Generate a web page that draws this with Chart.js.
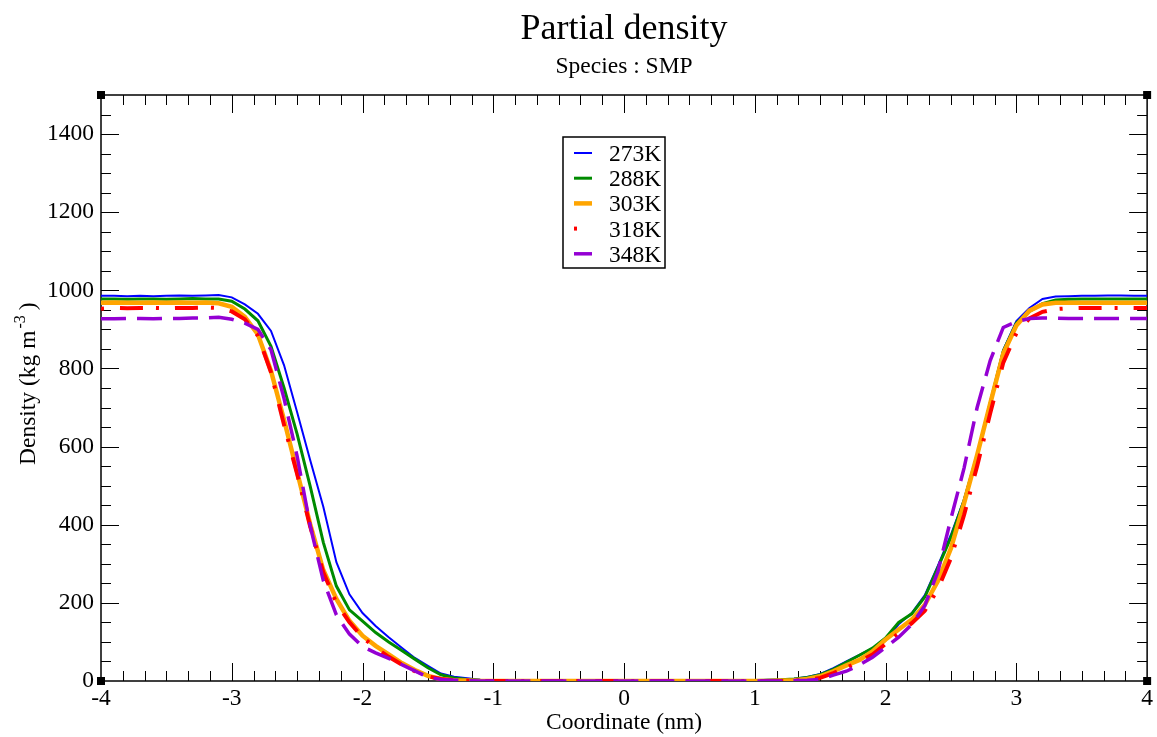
<!DOCTYPE html>
<html>
<head>
<meta charset="utf-8">
<script src="https://cdn.jsdelivr.net/npm/chart.js@4.4.1/dist/chart.umd.min.js"></script>
<style>
  html, body { margin: 0; padding: 0; background: #fff; }
  #wrap { width: 1157px; height: 737px; }
</style>
</head>
<body>
<div id="wrap"><canvas id="myChart"></canvas></div>
<script>
// coordinate grid (nm)
const coords = [
  -4.0, -3.9, -3.8, -3.7, -3.6, -3.5, -3.4, -3.3, -3.2, -3.1,
  -3.0, -2.9, -2.8, -2.7, -2.6, -2.5, -2.4, -2.3, -2.2, -2.1,
  -2.0, -1.9, -1.8, -1.7, -1.6, -1.5, -1.4, -1.3, -1.2, -1.1,
  -1.0, -0.9, -0.8, -0.7, -0.6, -0.5, -0.4, -0.3, -0.2, -0.1,
   0.0,  0.1,  0.2,  0.3,  0.4,  0.5,  0.6,  0.7,  0.8,  0.9,
   1.0,  1.1,  1.2,  1.3,  1.4,  1.5,  1.6,  1.7,  1.8,  1.9,
   2.0,  2.1,  2.2,  2.3,  2.4,  2.5,  2.6,  2.7,  2.8,  2.9,
   3.0,  3.1,  3.2,  3.3,  3.4,  3.5,  3.6,  3.7,  3.8,  3.9,
   4.0
];

// density (kg m^-3) per temperature
const rho273 = [
  986, 986, 985, 986, 985, 986, 987, 986, 987, 988,
  982, 964, 940, 896, 808, 688, 565, 446, 304, 222,
  174, 141, 112, 85, 59, 39, 19, 11, 7, 3,
  1, 0, 0, 0, 0, 0, 0, 0, 0, 0,
  0, 0, 0, 0, 0, 0, 0, 0, 0, 1,
  1, 3, 4, 6, 10, 18, 33, 50, 67, 84,
  104, 145, 174, 220, 295, 375, 465, 580, 715, 848,
  921, 955, 978, 984, 985, 986, 986, 987, 987, 986,
  986
];
const rho288 = [
  978, 978, 977, 978, 978, 977, 978, 979, 978, 978,
  972, 952, 922, 857, 750, 632, 498, 355, 243, 182,
  153, 124, 100, 78, 56, 34, 16, 8, 4, 2,
  1, 0, 0, 0, 0, 0, 0, 0, 0, 0,
  0, 0, 0, 0, 0, 0, 0, 0, 0, 0,
  1, 2, 3, 5, 9, 16, 30, 48, 66, 84,
  110, 150, 172, 215, 290, 368, 462, 578, 712, 845,
  916, 946, 966, 975, 977, 978, 978, 978, 978, 978,
  978
];
const rho303 = [
  968, 969, 968, 968, 969, 968, 969, 968, 969, 967,
  958, 932, 887, 794, 668, 535, 401, 284, 210, 154,
  116, 90, 68, 46, 28, 13, 5, 2, 1, 0,
  0, 0, 0, 0, 0, 0, 0, 0, 0, 0,
  0, 0, 0, 0, 0, 0, 0, 0, 0, 0,
  0, 0, 1, 2, 5, 12, 25, 40, 54, 76,
  106, 132, 157, 195, 256, 340, 455, 578, 710, 838,
  910, 948, 964, 968, 968, 968, 968, 968, 968, 968,
  968
];
const rho318 = [
  953, 955, 954, 955, 955, 954, 955, 955, 956, 955,
  946, 926, 884, 790, 655, 530, 395, 278, 200, 150,
  112, 85, 62, 42, 25, 12, 5, 2, 1, 0,
  0, 0, 0, 0, 0, 0, 0, 0, 0, 0,
  0, 0, 0, 0, 0, 0, 0, 0, 0, 0,
  0, 0, 0, 1, 3, 8, 20, 34, 50, 68,
  95, 122, 148, 180, 235, 315, 425, 550, 685, 815,
  890, 928, 945, 952, 954, 955, 955, 955, 955, 955,
  955
];
const rho348 = [
  927, 927, 928, 928, 927, 928, 928, 929, 929, 931,
  926, 916, 900, 848, 723, 575, 397, 257, 169, 120,
  88, 72, 58, 42, 26, 10, 4, 2, 1, 0,
  0, 0, 0, 0, 0, 0, 0, 0, 0, 0,
  0, 0, 0, 0, 0, 0, 0, 0, 0, 0,
  0, 0, 0, 1, 2, 4, 15, 25, 41, 61,
  86, 112, 145, 193, 280, 416, 545, 700, 820, 905,
  920, 928, 929, 929, 928, 928, 928, 928, 928, 928,
  928
];

const seriesLabels = ['273K', '288K', '303K', '318K', '348K'];
const seriesData = [rho273, rho288, rho303, rho318, rho348];
const seriesColors = ['#0000ff', '#008b00', '#ffa500', '#ff0000', '#9400d3'];
const seriesWidths = [2, 3, 4.5, 4, 3.5];
const seriesDash = [[], [], [], [3, 16, 23, 13], [25, 11]];

const xMajor = [-4, -3, -2, -1, 0, 1, 2, 3, 4];
const yMajor = [0, 200, 400, 600, 800, 1000, 1200, 1400];

const FONT = '"Liberation Serif", "Times New Roman", serif';

const decor = {
  id: 'decor',
  beforeDatasetsDraw(chart) {
    const { ctx, chartArea: a, scales: { x, y } } = chart;
    ctx.save();
    ctx.strokeStyle = '#000';
    ctx.lineWidth = 1;
    ctx.beginPath();
    for (let k = 1; k < 48; k++) {
      const px = Math.round(x.getPixelForValue(-4 + k / 6)) + 0.5;
      const len = k % 6 === 0 ? 18 : 10;
      ctx.moveTo(px, a.bottom); ctx.lineTo(px, a.bottom - len);
      ctx.moveTo(px, a.top); ctx.lineTo(px, a.top + len);
    }
    for (let v = 50; v < 1500; v += 50) {
      const py = Math.round(y.getPixelForValue(v)) + 0.5;
      const len = v % 200 === 0 ? 18 : 10;
      ctx.moveTo(a.left, py); ctx.lineTo(a.left + len, py);
      ctx.moveTo(a.right, py); ctx.lineTo(a.right - len, py);
    }
    ctx.stroke();
    ctx.lineWidth = 1.5;
    ctx.strokeRect(a.left, a.top, a.width, a.height);
    ctx.restore();
  },
  afterDraw(chart) {
    const { ctx, chartArea: a } = chart;
    ctx.save();
    // corner handles
    ctx.fillStyle = '#000';
    [[a.left, a.top], [a.right, a.top], [a.left, a.bottom], [a.right, a.bottom]].forEach(([cx, cy]) => {
      ctx.fillRect(cx - 4, cy - 4, 8, 8);
    });

    // titles
    ctx.textAlign = 'center';
    ctx.textBaseline = 'alphabetic';
    ctx.font = '36px ' + FONT;
    ctx.fillText('Partial density', (a.left + a.right) / 2, 39);
    ctx.font = '23.5px ' + FONT;
    ctx.fillText('Species : SMP', (a.left + a.right) / 2, 73);

    // y axis title with superscript
    ctx.save();
    ctx.translate(35, 465);
    ctx.rotate(-Math.PI / 2);
    ctx.textAlign = 'left';
    ctx.font = '23.5px ' + FONT;
    const main = 'Density (kg m';
    const w1 = ctx.measureText(main).width;
    ctx.fillText(main, 0, 0);
    ctx.font = '16px ' + FONT;
    ctx.fillText('-3', w1 + 2, -10);
    const w2 = ctx.measureText('-3').width;
    ctx.font = '23.5px ' + FONT;
    ctx.fillText(')', w1 + w2 + 7, 0);
    ctx.restore();

    // legend
    const bx = 563, by = 137, bw = 102, bh = 131;
    ctx.fillStyle = '#fff';
    ctx.fillRect(bx, by, bw, bh);
    ctx.strokeStyle = '#000';
    ctx.lineWidth = 1.5;
    ctx.strokeRect(bx, by, bw, bh);
    seriesLabels.forEach((lab, i) => {
      const ly = 153 + i * 25.2;
      ctx.beginPath();
      ctx.strokeStyle = seriesColors[i];
      ctx.lineWidth = seriesWidths[i];
      ctx.setLineDash(seriesDash[i]);
      ctx.moveTo(574, ly);
      ctx.lineTo(592, ly);
      ctx.stroke();
      ctx.setLineDash([]);
      ctx.fillStyle = '#000';
      ctx.font = '23.5px ' + FONT;
      ctx.textAlign = 'left';
      ctx.textBaseline = 'alphabetic';
      ctx.fillText(lab, 609, ly + 8);
    });
    ctx.restore();
  }
};

const ctx = document.getElementById('myChart');

new Chart(ctx, {
  type: 'line',
  data: {
    datasets: seriesLabels.map((lab, i) => ({
      label: lab,
      data: coords.map((c, j) => ({ x: c, y: seriesData[i][j] })),
      borderColor: seriesColors[i],
      backgroundColor: seriesColors[i],
      borderWidth: seriesWidths[i],
      borderDash: seriesDash[i],
      pointRadius: 0,
      tension: 0,
      fill: false,
      order: seriesLabels.length - i
    }))
  },
  options: {
    responsive: true,
    maintainAspectRatio: false,
    animation: false,
    devicePixelRatio: 1,
    layout: { padding: { top: 95, right: 9, bottom: 0, left: 0 } },
    plugins: {
      legend: { display: false },
      tooltip: { enabled: false },
      title: { display: false }
    },
    scales: {
      x: {
        type: 'linear',
        min: -4,
        max: 4,
        grid: { display: false, drawTicks: false },
        border: { display: false },
        ticks: {
          stepSize: 1,
          autoSkip: false,
          maxRotation: 0,
          padding: 4,
          color: '#000',
          font: { family: FONT, size: 23.5 },
          callback: v => xMajor.includes(v) ? String(v) : ''
        },
        title: {
          display: true,
          text: 'Coordinate (nm)',
          color: '#000',
          font: { family: FONT, size: 23.5 },
          padding: { top: 0, bottom: 0 }
        },
        afterFit(scale) { scale.height = 56; }
      },
      y: {
        min: 0,
        max: 1500,
        grid: { display: false, drawTicks: false },
        border: { display: false },
        ticks: {
          stepSize: 200,
          padding: 7,
          color: '#000',
          font: { family: FONT, size: 23.5 },
          callback: v => yMajor.includes(v) ? String(v) : ''
        },
        afterFit(scale) { scale.width = 101; }
      }
    }
  },
  plugins: [decor]
});
</script>
</body>
</html>
